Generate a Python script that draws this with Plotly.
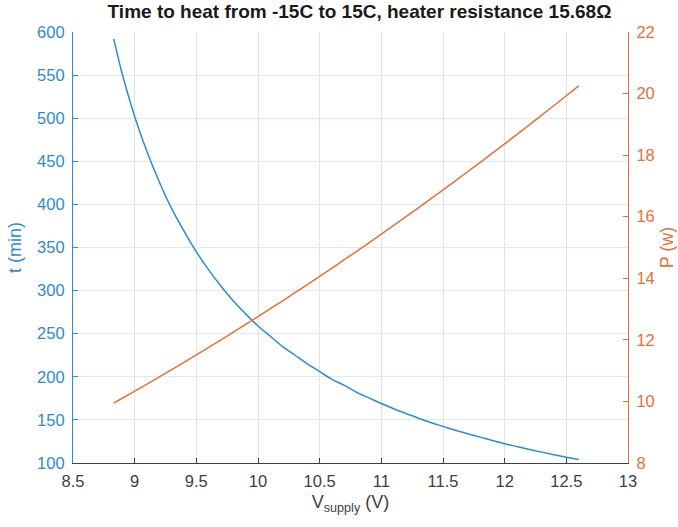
import plotly.graph_objects as go

v_supply = [8.83, 8.9, 9.0, 9.1, 9.2, 9.3, 9.4, 9.5, 9.6, 9.7, 9.8, 9.9, 10.0,
            10.1, 10.2, 10.3, 10.4, 10.5, 10.6, 10.7, 10.8, 10.9, 11.0, 11.1,
            11.2, 11.3, 11.4, 11.5, 11.6, 11.7, 11.8, 11.9, 12.0, 12.1, 12.2,
            12.3, 12.4, 12.5, 12.6]
t_min = [592, 551, 502, 461, 426, 395, 369, 345, 324, 305, 288, 273, 259,
         247, 235, 225, 215, 206, 197, 190, 182, 175.5, 169, 163, 157.5, 152,
         147, 142.5, 138, 134, 130, 126, 122.4, 119, 115.7, 112.6, 109.6,
         106.7, 104]
p_w = [9.945, 10.103, 10.332, 10.563, 10.796, 11.032, 11.270, 11.511, 11.755,
       12.001, 12.250, 12.501, 12.755, 13.011, 13.270, 13.532, 13.796, 14.062,
       14.332, 14.603, 14.878, 15.154, 15.434, 15.716, 16.000, 16.287, 16.577,
       16.869, 17.163, 17.460, 17.760, 18.063, 18.367, 18.675, 18.985, 19.297,
       19.612, 19.930, 20.250]

x_ticks = [8.5, 9, 9.5, 10, 10.5, 11, 11.5, 12, 12.5, 13]
t_ticks = [100, 150, 200, 250, 300, 350, 400, 450, 500, 550, 600]
p_ticks = [8, 10, 12, 14, 16, 18, 20, 22]

BLUE = "#2f8ad0"
ORANGE = "#e2703c"
FONT = "Liberation Sans, Arial, sans-serif"

fig = go.Figure()
fig.add_trace(go.Scatter(x=v_supply, y=t_min, mode="lines",
                         line=dict(color=BLUE, width=1.5, shape="spline"),
                         yaxis="y", showlegend=False))
fig.add_trace(go.Scatter(x=v_supply, y=p_w, mode="lines",
                         line=dict(color=ORANGE, width=1.5, shape="spline"),
                         yaxis="y2", showlegend=False))

fig.update_layout(
    width=678, height=527,
    margin=dict(l=73, r=50, t=32, b=64),
    paper_bgcolor="white", plot_bgcolor="white",
    font=dict(family=FONT, size=16, color="#262626"),
    title=dict(text="<b>Time to heat from -15C to 15C, heater resistance 15.68Ω</b>",
               x=350 / 678, xref="paper", xanchor="center",
               y=1 - 5 / 527, yanchor="top", pad=dict(t=0),
               font=dict(size=19, color="#1a1a1a")),
    xaxis=dict(range=[8.5, 13], tickvals=x_ticks,
               ticktext=[str(v) for v in x_ticks], automargin=False,
               showgrid=True, gridcolor="#e3e3e3", gridwidth=1,
               zeroline=False, showline=True, linecolor="#404040",
               linewidth=1.2, ticks="inside", ticklen=5, tickcolor="#404040",
               ticklabelstandoff=3,
               tickfont=dict(size=16.5, color="#404040"),
               title=dict(text="V<sub>supply</sub> (V)", standoff=6,
                          font=dict(size=18, color="#404040"))),
    yaxis=dict(range=[100, 600], tickvals=t_ticks, automargin=False,
               showgrid=True, gridcolor="#deebf6", gridwidth=1,
               zeroline=False, showline=True, linecolor=BLUE, linewidth=1.2,
               ticks="inside", ticklen=5, tickcolor=BLUE,
               ticklabelstandoff=4,
               tickfont=dict(size=16.5, color=BLUE),
               title=dict(text="t (min)", standoff=10,
                          font=dict(size=18, color=BLUE))),
    yaxis2=dict(range=[8, 22], tickvals=p_ticks, overlaying="y", side="right",
                automargin=False,
                showgrid=False, zeroline=False, showline=True,
                linecolor=ORANGE, linewidth=1.2, ticks="inside", ticklen=5,
                tickcolor=ORANGE, ticklabelstandoff=4,
                tickfont=dict(size=16.5, color=ORANGE),
                title=dict(text="P (w)", standoff=6,
                           font=dict(size=18, color=ORANGE))),
)

fig.write_html(
    "out.html",
    config={"displayModeBar": False},
    post_script="document.body.style.margin='0';"
                "document.body.style.overflow='hidden';",
)
